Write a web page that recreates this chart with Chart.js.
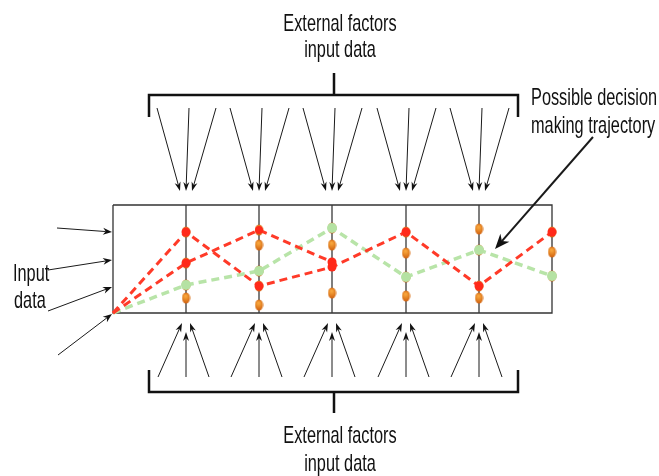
<!DOCTYPE html>
<html>
<head>
<meta charset="utf-8">
<script src="https://cdn.jsdelivr.net/npm/chart.js@4.4.0/dist/chart.umd.min.js"></script>
<style>
  html, body { margin: 0; padding: 0; background: #fff; }
  #wrap { width: 659px; height: 476px; position: relative; }
</style>
</head>
<body>
<div id="wrap"><canvas id="diagram"></canvas></div>
<script>
// Decision trajectory diagram. Coordinates are in the figure's own units (x right, y down).
const stageX = [186, 259, 332, 406, 479, 552];
const nodeLevels = [
    [232, 263, 285, 298],
    [230, 245, 271, 286, 305],
    [228, 245, 265, 293],
    [232, 253, 277, 296],
    [229, 250, 286, 298],
    [232, 252, 276]
];
const pathX = [113, 186, 259, 332, 406, 479, 552];
const redPathA = [313, 232, 286, 267, 232, 286, 232];
const redPathB = [313, 263, 230, 262];
const greenPath = [313, 285, 271, 228, 277, 250, 276];

const boxLeft = 113;
const boxRight = 552;
const boxTop = 205;
const boxBottom = 313;

// bracket ends and middle tick
const bracketLeft = 149;
const bracketRight = 518;
const bracketMid = 334;
const topBracket = [95, 117, 73];      // bar, end tick, middle tick
const bottomBracket = [392, 370, 413];

// external factor arrows, relative to each stage line
const topArrowStart = [-29, 3, 30];
const topArrowTip = [-6, 0, 6];
const topArrowY = [108, 191];
const bottomArrowStart = [-28, 0, 23];
const bottomArrowTip = [-4, 0, 4];
const bottomArrowY = [377, 323, 332];

const inputArrows = [
    [57, 228, 112, 232],
    [48, 270, 112, 260],
    [48, 311, 112, 287],
    [58, 355, 112, 314]
];
const pointerArrow = [593, 137, 495, 249];

const labels = [
    { text: 'External factors', x: 340, y: 31, align: 'center' },
    { text: 'input data', x: 340, y: 57, align: 'center' },
    { text: 'External factors', x: 340, y: 443, align: 'center' },
    { text: 'input data', x: 340, y: 471, align: 'center' },
    { text: 'Possible decision', x: 531, y: 105, align: 'left' },
    { text: 'making trajectory', x: 531, y: 133, align: 'left' },
    { text: 'Input', x: 13, y: 281, align: 'left' },
    { text: 'data', x: 14, y: 308, align: 'left' }
];

function toPoints(xs, ys) {
    return ys.map((y, i) => ({ x: xs[i], y }));
}

function nodeImage() {
    const c = document.createElement('canvas');
    c.width = 9;
    c.height = 12;
    const g = c.getContext('2d');
    const grad = g.createRadialGradient(4, 4, 1, 4.5, 6, 6);
    grad.addColorStop(0, '#f6a33a');
    grad.addColorStop(1, '#cc5a0a');
    g.fillStyle = grad;
    g.beginPath();
    g.ellipse(4.5, 6, 4, 5.5, 0, 0, Math.PI * 2);
    g.fill();
    return c;
}

function stageLines() {
    const pts = [];
    stageX.slice(0, 5).forEach(x => {
        pts.push({ x, y: boxTop }, { x, y: boxBottom }, { x, y: null });
    });
    return pts;
}

function bracketPoints(b) {
    return [
        { x: bracketLeft, y: b[1] }, { x: bracketLeft, y: b[0] },
        { x: bracketRight, y: b[0] }, { x: bracketRight, y: b[1] }, { x: null, y: null },
        { x: bracketMid, y: b[0] }, { x: bracketMid, y: b[2] }
    ];
}

function drawArrow(ctx, sx, sy, tx, ty, width, headLen, headW) {
    const ang = Math.atan2(ty - sy, tx - sx);
    const bx = tx - Math.cos(ang) * headLen * 0.7;
    const by = ty - Math.sin(ang) * headLen * 0.7;
    ctx.lineWidth = width;
    ctx.beginPath();
    ctx.moveTo(sx, sy);
    ctx.lineTo(bx, by);
    ctx.stroke();
    const px = -Math.sin(ang), py = Math.cos(ang);
    const hx = tx - Math.cos(ang) * headLen;
    const hy = ty - Math.sin(ang) * headLen;
    ctx.beginPath();
    ctx.moveTo(tx, ty);
    ctx.lineTo(hx + px * headW / 2, hy + py * headW / 2);
    ctx.lineTo(bx, by);
    ctx.lineTo(hx - px * headW / 2, hy - py * headW / 2);
    ctx.closePath();
    ctx.fill();
}

const arrowPlugin = {
    id: 'arrows',
    afterDatasetsDraw(chart) {
        const ctx = chart.ctx;
        const sx = chart.scales.x, sy = chart.scales.y;
        const px = v => sx.getPixelForValue(v);
        const py = v => sy.getPixelForValue(v);
        ctx.save();
        ctx.strokeStyle = '#1a1a1a';
        ctx.fillStyle = '#111';
        stageX.slice(0, 5).forEach(cx => {
            topArrowStart.forEach((off, i) => {
                drawArrow(ctx, px(cx + off), py(topArrowY[0]), px(cx + topArrowTip[i]), py(topArrowY[1]), 1, 9, 6);
            });
            bottomArrowStart.forEach((off, i) => {
                const tipY = i === 1 ? bottomArrowY[2] : bottomArrowY[1];
                drawArrow(ctx, px(cx + off), py(bottomArrowY[0]), px(cx + bottomArrowTip[i]), py(tipY), 1, 9, 6);
            });
        });
        inputArrows.forEach(a => {
            drawArrow(ctx, px(a[0]), py(a[1]), px(a[2]), py(a[3]), 1, 9, 7);
        });
        drawArrow(ctx, px(pointerArrow[0]), py(pointerArrow[1]), px(pointerArrow[2]), py(pointerArrow[3]), 2, 15, 12);

        ctx.fillStyle = '#111';
        ctx.font = '24px "Liberation Sans", Arial, sans-serif';
        ctx.textBaseline = 'alphabetic';
        labels.forEach(l => {
            ctx.save();
            ctx.translate(px(l.x), py(l.y));
            ctx.scale(0.68, 1);
            ctx.textAlign = l.align;
            ctx.fillText(l.text, 0, 0);
            ctx.restore();
        });
        ctx.restore();
    }
};

const nodePoints = [];
stageX.forEach((x, i) => {
    nodeLevels[i].forEach(y => nodePoints.push({ x, y }));
});

const lineBase = { showLine: true, pointRadius: 0, fill: false, tension: 0 };

new Chart(document.getElementById('diagram'), {
    type: 'scatter',
    data: {
        datasets: [
            Object.assign({}, lineBase, {
                label: 'Red trajectory A',
                data: toPoints(pathX, redPathA),
                borderColor: '#ff3a28',
                borderWidth: 3,
                borderDash: [8, 5],
                pointRadius: [0, 4.5, 4.5, 4.5, 4.5, 4.5, 4.5],
                pointBackgroundColor: '#ff2a1a',
                pointBorderWidth: 0,
                order: 1
            }),
            Object.assign({}, lineBase, {
                label: 'Red trajectory B',
                data: toPoints(pathX, redPathB),
                borderColor: '#ff3a28',
                borderWidth: 3,
                borderDash: [8, 5],
                pointRadius: [0, 4.5, 4, 4.5],
                pointBackgroundColor: '#ff2a1a',
                pointBorderWidth: 0,
                order: 1
            }),
            Object.assign({}, lineBase, {
                label: 'Green trajectory',
                data: toPoints(pathX, greenPath),
                borderColor: '#b8e4a8',
                borderWidth: 3.5,
                borderDash: [8, 5],
                pointRadius: [0, 5, 5, 5, 5, 5, 5],
                pointBackgroundColor: '#b5e2a3',
                pointBorderWidth: 0,
                order: 2
            }),
            {
                label: 'Nodes',
                data: nodePoints,
                pointStyle: nodeImage(),
                pointRadius: 5,
                order: 3
            },
            Object.assign({}, lineBase, {
                label: 'Stages',
                data: stageLines(),
                borderColor: '#3a3a3a',
                borderWidth: 1.3,
                spanGaps: false,
                order: 4
            }),
            Object.assign({}, lineBase, {
                label: 'Box',
                data: [
                    { x: boxLeft, y: boxTop }, { x: boxRight, y: boxTop },
                    { x: boxRight, y: boxBottom }, { x: boxLeft, y: boxBottom },
                    { x: boxLeft, y: boxTop }
                ],
                borderColor: '#333',
                borderWidth: 1.3,
                order: 5
            }),
            Object.assign({}, lineBase, {
                label: 'Top bracket',
                data: bracketPoints(topBracket),
                borderColor: '#111',
                borderWidth: 2.5,
                spanGaps: false,
                order: 5
            }),
            Object.assign({}, lineBase, {
                label: 'Bottom bracket',
                data: bracketPoints(bottomBracket),
                borderColor: '#111',
                borderWidth: 2.5,
                spanGaps: false,
                order: 5
            })
        ]
    },
    options: {
        responsive: true,
        maintainAspectRatio: false,
        animation: false,
        layout: { padding: 0, autoPadding: false },
        plugins: {
            legend: { display: false },
            tooltip: { enabled: false }
        },
        scales: {
            x: { type: 'linear', min: 0, max: 659, display: false },
            y: { type: 'linear', min: 0, max: 476, reverse: true, display: false }
        }
    },
    plugins: [arrowPlugin]
});
</script>
</body>
</html>
